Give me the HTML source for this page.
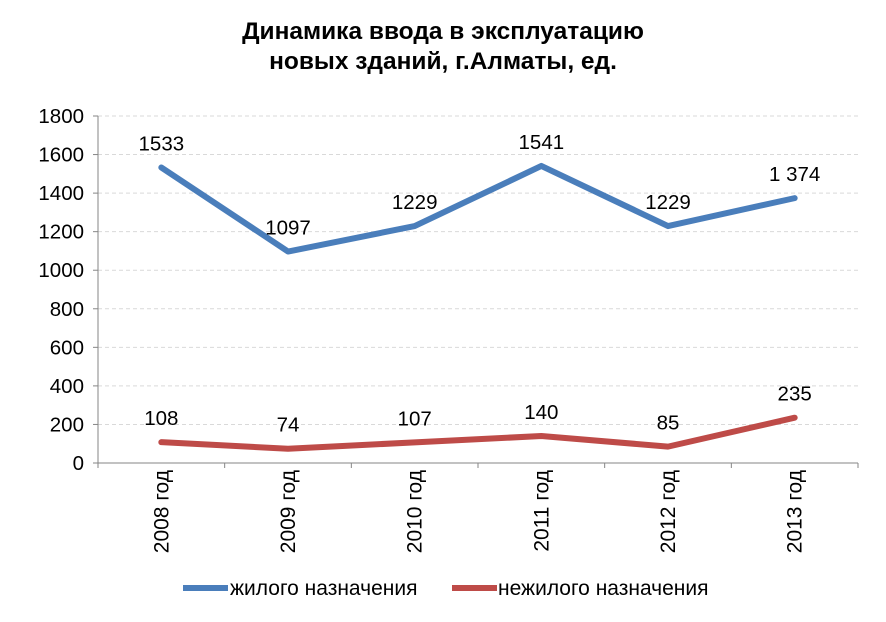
<!DOCTYPE html>
<html><head><meta charset="utf-8"><style>
body{margin:0;background:#fff;}
svg text{font-family:"Liberation Sans",sans-serif;}
</style></head><body>
<svg width="886" height="617" xmlns="http://www.w3.org/2000/svg">
<text x="443" y="39" text-anchor="middle" font-size="24.5" font-weight="bold">Динамика ввода в эксплуатацию</text>
<text x="443" y="69" text-anchor="middle" font-size="24.5" font-weight="bold">новых зданий, г.Алматы, ед.</text>
<g id="grid"></g><g id="axes"></g><g id="series"></g>
<g>
<line x1="183" y1="588" x2="228" y2="588" stroke="#4a7ebb" stroke-width="6"/>
<text x="230" y="595" font-size="21">жилого назначения</text>
<line x1="452" y1="588" x2="497" y2="588" stroke="#be4b48" stroke-width="6"/>
<text x="498" y="595" font-size="21">нежилого назначения</text>
</g>
</svg>
<script>
const categories=["2008 год","2009 год","2010 год","2011 год","2012 год","2013 год"];
const residential=[1533,1097,1229,1541,1229,1374];
const residentialLabels=["1533","1097","1229","1541","1229","1 374"];
const nonResidential=[108,74,107,140,85,235];
const nonResidentialLabels=["108","74","107","140","85","235"];
const yTicks=[0,200,400,600,800,1000,1200,1400,1600,1800];
const NS="http://www.w3.org/2000/svg";
const L=98,R=858,T=116,B=463,YMAX=1800;
const y=v=>B-(v/YMAX)*(B-T);
const step=(R-L)/categories.length;
const x=i=>L+step*(i+0.5);
function mk(tag,attrs,parent,txt){const e=document.createElementNS(NS,tag);for(const k in attrs)e.setAttribute(k,attrs[k]);if(txt!==undefined)e.textContent=txt;document.getElementById(parent).appendChild(e);return e;}
yTicks.forEach(v=>{
 if(v>0){const g=mk('line',{x1:L,x2:R,y1:y(v),y2:y(v),stroke:'#d9d9d9','stroke-dasharray':'4,3'},'grid');
 
 }
 const t=mk('text',{x:84,y:y(v)+7,'text-anchor':'end','font-size':20.5},'axes',String(v));
 
 
 const tk=mk('line',{x1:L-5,x2:L,y1:y(v),y2:y(v),stroke:'#868686'},'axes');
 
 
});
const ya=mk('line',{x1:L,x2:L,y1:T,y2:B,stroke:'#868686'},'axes');


const xa=mk('line',{x1:L,x2:R,y1:B,y2:B,stroke:'#868686'},'axes');


for(let i=0;i<=categories.length;i++){const tk=mk('line',{x1:L+step*i,x2:L+step*i,y1:B,y2:B+5,stroke:'#868686'},'axes');
 
 }
categories.forEach((c,i)=>{
 const t=mk('text',{x:0,y:0,'text-anchor':'end','font-size':21,transform:`translate(${x(i)+7},470) rotate(-90)`},'axes',c);
 
 
});
function series(vals,labels,color,name){
 const p=mk('polyline',{points:vals.map((v,i)=>x(i)+','+y(v)).join(' '),fill:'none',stroke:color,'stroke-width':6,'stroke-linejoin':'round','stroke-linecap':'round'},'series');
 
 
 vals.forEach((v,i)=>{
  const t=mk('text',{x:x(i),y:y(v)-17,'text-anchor':'middle','font-size':20.5},'series',labels[i]);
  
  
 });
}
series(residential,residentialLabels,'#4a7ebb','residential');
series(nonResidential,nonResidentialLabels,'#be4b48','nonresidential');
</script>
</body></html>
